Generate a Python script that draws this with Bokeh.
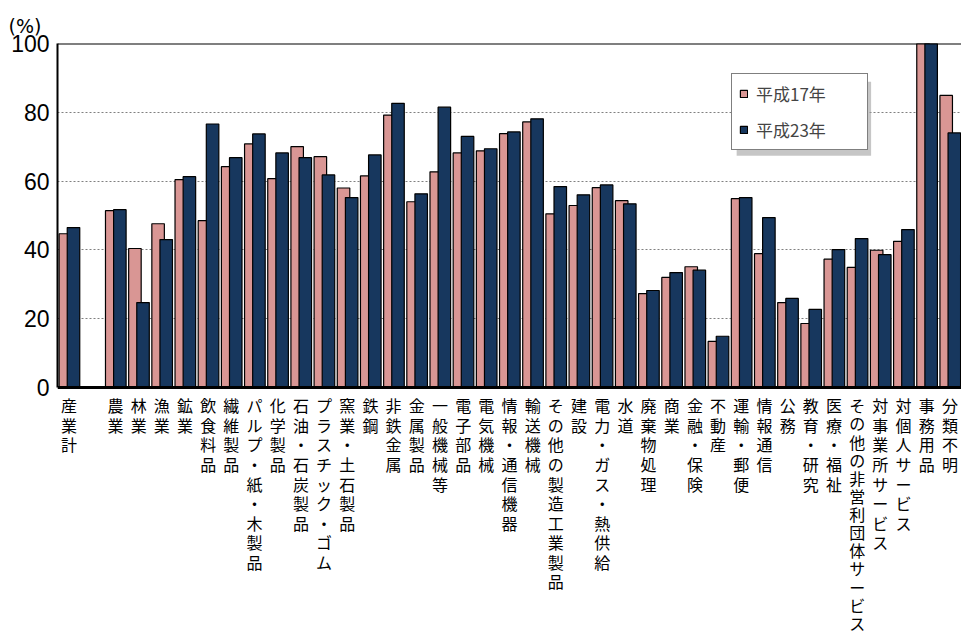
from bokeh.plotting import figure
from bokeh.models import (ColumnDataSource, FactorRange, Range1d, FixedTicker,
                          Legend, LegendItem, Span, BoxAnnotation)
from bokeh.core.properties import value
from bokeh.transform import dodge
from bokeh.embed import file_html
from bokeh.resources import INLINE

cats = ["産業計", "農業", "林業", "漁業", "鉱業", "飲食料品", "繊維製品", "パルプ・紙・木製品",
        "化学製品", "石油・石炭製品", "プラスチック・ゴム", "窯業・土石製品", "鉄鋼", "非鉄金属",
        "金属製品", "一般機械等", "電子部品", "電気機械", "情報・通信機器", "輸送機械",
        "その他の製造工業製品", "建設", "電力・ガス・熱供給", "水道", "廃棄物処理", "商業",
        "金融・保険", "不動産", "運輸・郵便", "情報通信", "公務", "教育・研究", "医療・福祉",
        "その他の非営利団体サービス", "対事業所サービス", "対個人サービス", "事務用品", "分類不明"]
h17 = [44.7, 51.4, 40.4, 47.6, 60.4, 48.5, 64.2, 70.8, 60.7, 70.0, 67.1, 58.0, 61.5, 79.2,
       54.0, 62.7, 68.2, 68.8, 73.8, 77.2, 50.5, 52.9, 58.1, 54.3, 27.3, 32.0, 35.1, 13.4,
       54.9, 38.9, 24.7, 18.6, 37.3, 34.9, 39.9, 42.5, 100.0, 84.9]
h23 = [46.5, 51.7, 24.7, 43.0, 61.3, 76.6, 66.8, 73.7, 68.2, 66.8, 61.8, 55.2, 67.6, 82.6,
       56.3, 81.5, 73.0, 69.4, 74.3, 78.1, 58.4, 56.0, 58.9, 53.4, 28.2, 33.4, 34.1, 14.9,
       55.2, 49.4, 25.9, 22.7, 40.1, 43.3, 38.6, 45.9, 100.0, 74.0]
series_names = ["平成17年", "平成23年"]
y_ticks = [0, 20, 40, 60, 80, 100]
y_unit = "(%)"

factors = [cats[0], " "] + cats[1:]
src = ColumnDataSource(dict(cat=cats, h17=h17, h23=h23))

PINK = "#D99694"
BLUE = "#17375E"

W, H = 961, 641
TOP, LEFT = 43, 57
# y-range extended below zero so that category labels live inside the frame
y_low = -(H - 387) / 3.44

p = figure(width=W, height=H, x_range=FactorRange(*factors), y_range=Range1d(y_low, 100),
           output_backend="svg", toolbar_location=None,
           min_border_left=LEFT, min_border_right=0, min_border_top=TOP, min_border_bottom=0)
p.x_range.range_padding = 0

# legend shadow
p.add_layout(BoxAnnotation(left=29.3, right=35.1, top=88.9, bottom=67.4,
                           fill_color="#A0A0A0", fill_alpha=0.6, line_color=None))

r1 = p.vbar(x=dodge("cat", -0.16, range=p.x_range), top="h17", width=0.54, source=src,
            fill_color=PINK, line_color="black", line_width=1.2)
r2 = p.vbar(x=dodge("cat", 0.19, range=p.x_range), top="h23", width=0.54, source=src,
            fill_color=BLUE, line_color="black", line_width=1.2)

p.xaxis.visible = False
p.outline_line_color = None
p.xgrid.grid_line_color = None
p.ygrid.ticker = FixedTicker(ticks=[20, 40, 60, 80])
p.ygrid.grid_line_color = "#808080"
p.ygrid.grid_line_dash = "2 2"
p.ygrid.grid_line_width = 1

ya = p.yaxis[0]
ya.ticker = FixedTicker(ticks=y_ticks)
ya.bounds = (0, 100)
ya.axis_line_color = "black"
ya.axis_line_width = 2
ya.major_tick_line_color = None
ya.minor_tick_line_color = None
ya.major_label_standoff = 2
ya.major_label_text_font = "Liberation Sans"
ya.major_label_text_font_size = "23px"
ya.major_label_text_color = "black"

p.add_layout(Span(location=100, dimension="width", line_color="black", line_width=2))
p.add_layout(Span(location=0, dimension="width", line_color="black", line_width=3))

# category labels (vertical writing), inside the extended frame
normal = [c for c in cats if len(c) <= 11]
longer = [c for c in cats if len(c) > 11]
s1 = ColumnDataSource(dict(cat=normal, lbl=["\n".join(c) for c in normal], y=[-1.7] * len(normal)))
s2 = ColumnDataSource(dict(cat=longer, lbl=["\n".join(c) for c in longer], y=[-1.7] * len(longer)))
p.text(x="cat", y="y", text="lbl", source=s1, text_align="center", text_baseline="top",
       text_font=value("Noto Sans CJK JP"), text_font_size="16px", text_line_height=0.815,
       text_color="black")
p.text(x="cat", y="y", text="lbl", source=s2, text_align="center", text_baseline="top",
       text_font=value("Noto Sans CJK JP"), text_font_size="16px", text_line_height=0.755,
       text_color="black")

# unit label at top-left
p.title.text = y_unit
p.title.align = "left"
p.title.offset = -49
p.title.text_font = "DejaVu Sans"
p.title.text_font_size = "19px"
p.title.text_font_style = "normal"
p.title.text_color = "black"
p.title.standoff = 13

legend = Legend(items=[LegendItem(label=series_names[0], renderers=[r1]),
                       LegendItem(label=series_names[1], renderers=[r2])],
                location=(674, H - 150), orientation="vertical",
                border_line_color="black", border_line_width=1,
                background_fill_color="white", background_fill_alpha=1,
                label_text_font="Noto Sans CJK JP", label_text_font_size="17px",
                glyph_width=9, glyph_height=9, label_standoff=8, padding=7,
                spacing=11, label_width=104, margin=0)
p.add_layout(legend)

open("out.html", "w").write(file_html(p, INLINE))
